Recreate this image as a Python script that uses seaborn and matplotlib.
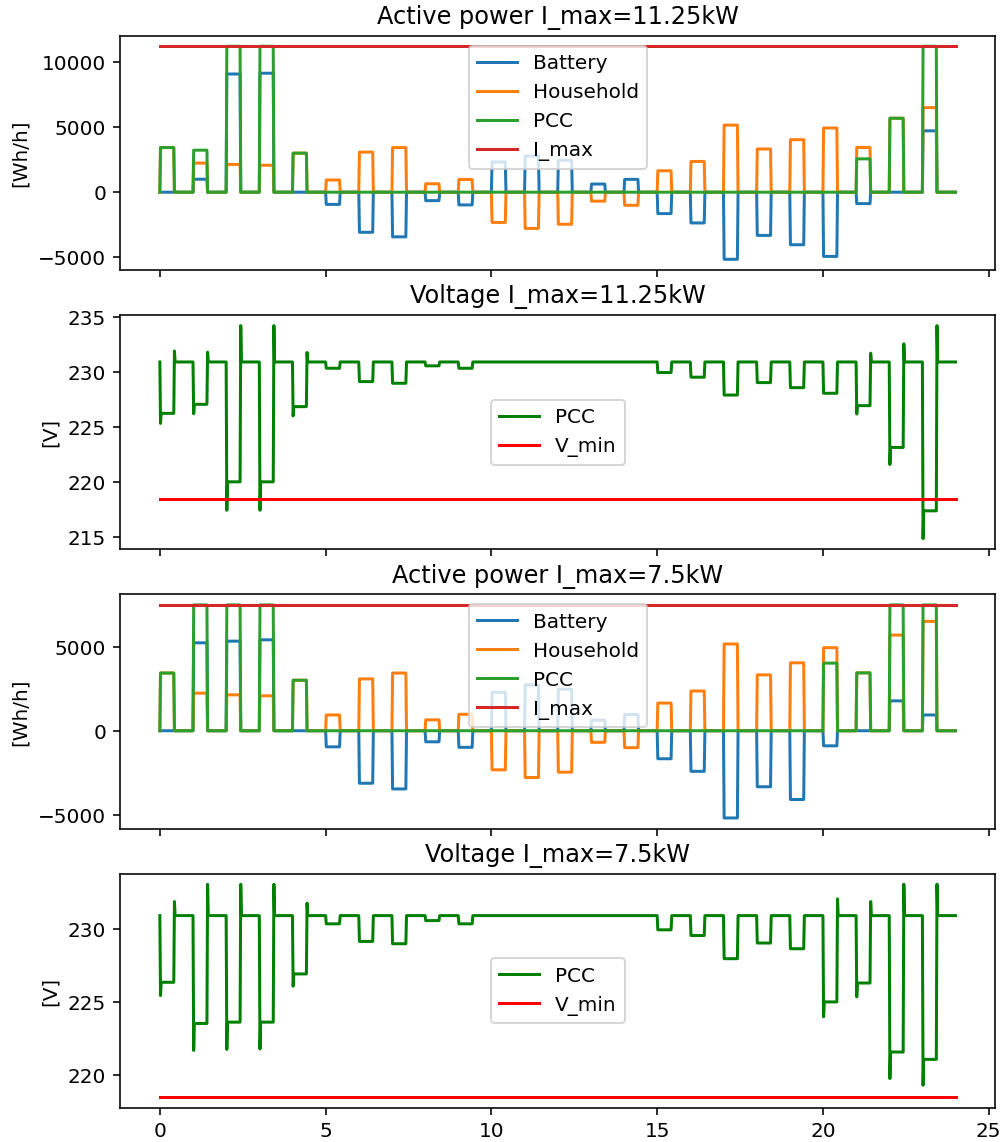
import numpy as np
import pandas as pd
import matplotlib
matplotlib.use("Agg")
import matplotlib.pyplot as plt
from matplotlib.ticker import MultipleLocator
import seaborn as sns

# ---- data -------------------------------------------------------------
hours = list(range(24))

# household demand per hour (same in both scenarios), Wh/h
household = [3440, 2240, 2140, 2080, 3010, 940, 3090, 3440, 650, 980,
             -2330, -2790, -2470, -690, -1010, 1650, 2370, 5170, 3330, 4050,
             4950, 3450, 5700, 6520]

# scenario I_max = 11.25 kW
battery_11 = [0, 1000, 9110, 9170, 0, -940, -3090, -3440, -650, -980,
              2330, 2790, 2470, 630, 990, -1650, -2370, -5170, -3330, -4050,
              -4950, -880, 0, 4730]
pcc_11 = [3440, 3240, 11250, 11250, 3010, 0, 0, 0, 0, 0,
          0, 0, 0, 0, 0, 0, 0, 0, 0, 0,
          0, 2570, 5700, 11250]
v_level_11 = [226.24, 227.06, 220.03, 220.03, 226.85, 230.33, 229.12, 228.97, 230.55, 230.33,
              230.9, 230.9, 230.9, 230.9, 230.9, 229.94, 229.52, 227.90, 229.03, 228.57,
              228.06, 226.94, 223.15, 217.40]
v_dip_11 = [225.33, 226.20, 217.45, 217.45, 226.00, 230.33, 229.12, 228.97, 230.55, 230.33,
            230.9, 230.9, 230.9, 230.9, 230.9, 229.94, 229.52, 227.90, 229.03, 228.57,
            228.06, 226.18, 221.60, 214.88]
v_peak_11 = [231.90, 231.79, 234.20, 234.20, 231.76, 230.9, 230.9, 230.9, 230.9, 230.9,
             230.9, 230.9, 230.9, 230.9, 230.9, 230.9, 230.9, 230.9, 230.9, 230.9,
             230.9, 231.70, 232.55, 234.20]

# scenario I_max = 7.5 kW
battery_75 = [0, 5240, 5340, 5420, 0, -960, -3130, -3470, -660, -990,
              2290, 2730, 2480, 630, 970, -1670, -2420, -5200, -3340, -4100,
              -900, 0, 1780, 940]
pcc_75 = [3440, 7500, 7500, 7500, 3010, 0, 0, 0, 0, 0,
          0, 0, 0, 0, 0, 0, 0, 0, 0, 0,
          4030, 3450, 7500, 7500]
v_level_75 = [226.35, 223.54, 223.63, 223.63, 226.92, 230.34, 229.14, 228.98, 230.56, 230.34,
              230.9, 230.9, 230.9, 230.9, 230.9, 229.93, 229.54, 227.96, 229.03, 228.64,
              225.01, 226.30, 221.59, 221.09]
v_dip_75 = [225.44, 221.70, 221.77, 221.80, 226.08, 230.34, 229.14, 228.98, 230.56, 230.34,
            230.9, 230.9, 230.9, 230.9, 230.9, 229.93, 229.54, 227.96, 229.03, 228.64,
            223.99, 225.35, 219.78, 219.32]
v_peak_75 = [231.86, 233.04, 233.04, 233.04, 231.75, 230.9, 230.9, 230.9, 230.9, 230.9,
             230.9, 230.9, 230.9, 230.9, 230.9, 230.9, 230.9, 230.9, 230.9, 230.9,
             232.04, 231.86, 233.04, 233.04]

v_base = 230.9
v_min = 218.5
horizon = 24

# each hour: load switched on at the full hour for ON hours
ON = 0.42
RAMP = 0.02


def power_trace(values):
    t, y = [], []
    for h, v in zip(hours, values):
        t += [h, h + RAMP, h + ON, h + ON + RAMP]
        y += [0, v, v, 0]
    t.append(horizon)
    y.append(0)
    return np.array(t), np.array(y)


def voltage_trace(level, dip, peak):
    t, y = [], []
    for h, lv, dp, pk in zip(hours, level, dip, peak):
        t += [h, h + RAMP, h + 2 * RAMP, h + ON, h + ON + RAMP, h + ON + 2 * RAMP]
        y += [v_base, dp, lv, lv, pk, v_base]
    t.append(horizon)
    y.append(v_base)
    return np.array(t), np.array(y)


def draw_power(ax, battery, pcc, imax, title):
    series = [("Battery", battery, "tab:blue"),
              ("Household", household, "tab:orange"),
              ("PCC", pcc, "tab:green")]
    for name, vals, col in series:
        t, y = power_trace(vals)
        sns.lineplot(x=t, y=y, color=col, label=name, ax=ax,
                     estimator=None, sort=False, linewidth=1.5)
    sns.lineplot(x=[0, horizon], y=[imax, imax], color="tab:red", label="I_max",
                 ax=ax, estimator=None, sort=False, linewidth=1.5)
    ax.set_title(title)
    ax.set_ylabel("[Wh/h]")
    ax.yaxis.set_major_locator(MultipleLocator(5000))
    ax.legend(loc="upper center")


def draw_voltage(ax, level, dip, peak, title):
    t, y = voltage_trace(level, dip, peak)
    sns.lineplot(x=t, y=y, color="green", label="PCC", ax=ax,
                 estimator=None, sort=False, linewidth=1.5)
    sns.lineplot(x=[0, horizon], y=[v_min, v_min], color="red", label="V_min",
                 ax=ax, estimator=None, sort=False, linewidth=1.5)
    ax.set_title(title)
    ax.set_ylabel("[V]")
    ax.legend(loc="center")


DPI = 144
fig, axes = plt.subplots(4, 1, sharex=True, figsize=(1006.4 / DPI, 1142.4 / DPI), dpi=DPI)
fig.subplots_adjust(left=0.1193, right=0.989, top=0.9685, bottom=0.0298, hspace=0.192)

draw_power(axes[0], battery_11, pcc_11, 11250, "Active power I_max=11.25kW")
draw_voltage(axes[1], v_level_11, v_dip_11, v_peak_11, "Voltage I_max=11.25kW")
draw_power(axes[2], battery_75, pcc_75, 7500, "Active power I_max=7.5kW")
draw_voltage(axes[3], v_level_75, v_dip_75, v_peak_75, "Voltage I_max=7.5kW")

for ax in axes:
    ax.set_xlabel("")

fig.savefig("out.png", dpi=DPI)
